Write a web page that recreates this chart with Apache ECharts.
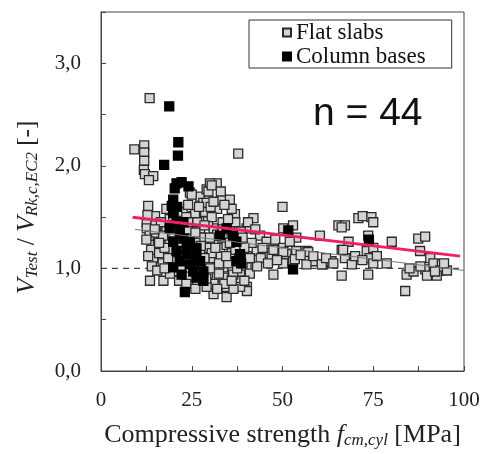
<!DOCTYPE html>
<html>
<head>
<meta charset="utf-8">
<script src="https://cdn.jsdelivr.net/npm/echarts@6/dist/echarts.min.js"></script>
<style>html,body{margin:0;padding:0;background:#fff}#c{width:484px;height:454px}</style>
</head>
<body>
<div id="c"></div>
<script>
// ---- data ----
const flatSlabs = [
[13.4,2.66],[9.2,2.16],[11.9,2.20],[11.9,2.13],[11.9,2.05],[11.8,1.96],[12.1,1.92],[14.4,1.90],[13.2,1.86],[37.8,2.12],
[13.0,1.61],[14.9,1.51],[12.6,1.45],[12.6,1.39],[13.4,1.32],[14.3,1.23],[15.7,1.28],[16.6,1.31],[14.4,1.10],[14.0,1.02],[13.5,0.88],[17.2,0.88],
[12.8,1.52],[15.2,1.35],[13.8,1.18],[16.0,1.15],[17.0,1.05],[15.5,0.98],
[25.4,0.85],[27.3,1.70],[29.1,1.77],[31.9,1.83],[30.0,1.83],[24.5,1.74],[28.2,1.64],[33.2,1.67],[35.5,1.67],[32.0,1.58],[36.9,1.53],[42.0,1.49],[40.1,1.39],[25.4,1.51],[27.3,1.39],[31.0,1.39],[35.5,1.39],[43.8,1.32],[45.6,1.26],[47.5,1.20],[45.6,1.15],[42.9,1.17],[40.2,1.12],[40.1,1.01],[38.3,0.94],[38.3,0.88],[40.2,0.82],[40.2,0.78],[38.3,0.82],[34.6,0.72],[34.6,0.82],[31.0,0.75],[31.0,0.85],[29.1,0.82],[28.2,0.91],[31.9,1.01],[33.7,1.01],[35.5,1.10],[32.8,1.20],[34.6,1.23],[36.4,1.20],[31.0,1.26],[29.1,1.20],[27.3,1.14],[31.0,1.10],[36.4,0.94],[33.7,0.91],[23.6,1.29],[21.7,1.20],[19.9,1.07],[20.8,0.97],[22.7,0.91],[18.9,1.26],[18.0,1.39],[17.1,1.32],[18.9,1.48],[18.0,1.58],[19.9,1.51],
[25.0,1.72],[29.6,1.75],[30.5,1.81],[29.1,1.64],[25.9,1.53],[28.7,1.55],[30.2,1.60],[33.5,1.45],[37.0,1.45],[38.5,1.36],[26.5,1.45],[24.0,1.38],[29.5,1.46],[32.0,1.33],[34.0,1.30],[28.0,1.30],[26.0,1.25],[30.5,1.15],[33.0,1.12],[35.0,1.05],[37.5,1.00],[39.0,1.05],[36.0,1.15],[27.0,1.00],[29.5,0.95],[32.5,0.95],[34.0,0.85],[36.5,0.80],[26.5,0.88],[24.5,0.92],[22.0,1.02],[23.0,1.10],[21.0,1.30],[19.5,1.18],[41.5,1.25],[39.5,1.20],[44.0,1.10],[47.0,1.12],[41.0,0.95],[30.5,1.50],[36.0,1.58],[34.0,1.62],[22.5,1.55],[24.0,1.62],
[15.0,1.42],[16.5,1.45],[17.5,1.20],[18.5,1.10],[19.0,0.95],[21.5,0.88],[23.5,0.85],[25.5,1.05],[26.0,1.35],[27.5,1.22],[28.5,1.42],[30.0,1.30],[31.5,1.20],[32.5,1.05],[33.5,1.38],[35.0,1.48],[36.0,1.30],[37.0,1.18],[38.0,1.10],[39.0,1.30],[40.5,1.45],[42.5,1.38],[43.0,1.02],[44.5,1.20],[46.0,1.05],[48.0,1.28],[30.0,1.00],[28.5,1.10],[25.0,1.18],[22.0,1.25],[21.5,1.40],[23.5,1.50],[27.0,1.60],[31.0,1.65],[33.0,1.75],[35.5,1.25],[34.5,1.12],[29.0,0.90],[26.0,0.80],[32.0,0.80],[36.0,0.88],[39.5,0.88],[24.0,1.45],[20.0,1.35],[17.5,1.00],[16.0,1.25],[14.8,1.38],[12.5,1.28],[13.0,1.12],[41.0,1.10],
[50.0,1.60],[50.2,1.39],[50.2,1.20],[51.1,1.14],[47.5,0.94],[52.9,1.42],[53.8,1.30],[52.0,1.26],[52.9,1.07],[53.8,1.17],[56.6,1.17],[58.4,1.07],[56.6,1.04],[60.3,1.32],[61.2,1.04],[63.5,1.07],[65.4,1.42],[67.2,1.42],[66.3,1.18],[68.2,1.26],[67.2,1.10],[66.3,0.93],[69.1,1.04],[70.9,1.49],[72.1,1.51],[74.5,1.50],[75.0,1.45],[73.6,1.32],[73.2,1.17],[75.0,1.20],[74.0,1.10],[75.0,1.05],[73.6,0.94],[78.7,1.05],[80.1,1.26],[84.2,0.94],[83.8,0.78],[86.1,0.97],[87.4,1.29],[89.3,1.31],[87.9,1.17],[89.3,0.99],[90.7,1.10],[91.6,1.05],[91.6,0.94],[93.9,1.04],[93.4,0.98],[95.3,0.98],[89.8,0.93],[92.5,0.93],
[50.2,1.16],[50.2,1.05],[53.4,1.09],[57.1,1.16],[58.5,1.12],[60.8,1.04],[47.5,1.18],[66.7,1.18],[66.3,1.40],[55.0,1.13],[48.5,1.08],[62.0,1.10],[70.0,1.12],[72.0,1.08],[76.0,1.12],[85.0,1.00],[94.5,1.05],[88.0,1.02],[92.0,0.97],[64.0,1.05]
];
const columnBases = [
[18.8,2.58],[21.3,2.23],[21.2,2.10],[17.4,2.01],[20.8,1.83],[22.2,1.84],[20.3,1.78],[24.1,1.80],[19.9,1.67],[19.5,1.61],[19.9,1.54],[20.8,1.45],[18.9,1.39],[21.7,1.36],[19.9,1.26],[22.7,1.29],[20.8,1.17],[23.6,1.14],[21.7,1.07],[24.5,1.04],[19.9,1.01],[22.2,0.94],[25.4,0.97],[23.6,1.20],[26.3,1.20],[27.3,1.07],[28.2,0.97],[28.2,0.88],[26.3,0.91],[23.1,0.77],[24.5,1.26],[34.6,1.39],[36.4,1.32],[32.8,1.32],[37.3,1.26],[38.3,1.14],[37.3,1.07],[38.6,1.05],[51.6,1.37],[52.9,0.99],[73.8,1.28],[26.3,1.10],[22.7,1.45],[21.0,1.60]
];
const pinkTrend = [[8.7,1.50],[98.9,1.12]];
const grayTrend = [[9.4,1.38],[100,0.98]];
const refLine = [[0,1.0],[100,1.0]];
const xTicks = [0,25,50,75,100];
const yTicks = [0,1,2,3];
const nLabel = 'n = 44';

const chart = echarts.init(document.getElementById('c'), null, {renderer:'canvas'});
const serif = 'Liberation Serif';
chart.setOption({
  animation:false,
  backgroundColor:'#fff',
  grid:{left:101, top:12, right:20, bottom:75, show:true, borderColor:'#444', borderWidth:1},
  legend:{
    data:['Flat slabs','Column bases'],
    orient:'vertical', left:249, top:20,
    padding:[1,26,0,33], itemGap:1, itemWidth:8, itemHeight:8,
    borderColor:'#333', borderWidth:1,
    textStyle:{fontFamily:serif, fontSize:23, lineHeight:21, color:'#111'}
  },
  xAxis:{
    type:'value', min:0, max:100, interval:12.5,
    axisLine:{lineStyle:{color:'#444'}},
    axisTick:{inside:true, length:5, lineStyle:{color:'#444'}},
    splitLine:{show:false},
    axisLabel:{margin:19, fontFamily:serif, fontSize:21, color:'#222',
      formatter:v=> xTicks.includes(v) ? String(v) : ''},
    name:'Compressive strength {i|f}{sub|cm,cyl} [MPa]',
    nameLocation:'middle', nameGap:50,
    nameTextStyle:{fontFamily:serif, fontSize:26, color:'#222',
      rich:{i:{fontFamily:serif, fontSize:26, fontStyle:'italic', color:'#222'},
            sub:{fontFamily:serif, fontSize:17, fontStyle:'italic', color:'#222', padding:[11,0,0,0]}}}
  },
  yAxis:{
    type:'value', min:0, max:3.5, interval:0.5,
    axisLine:{show:true, lineStyle:{color:'#444'}},
    axisTick:{show:true, inside:true, length:5, lineStyle:{color:'#444'}},
    splitLine:{show:false},
    axisLabel:{margin:20, fontFamily:serif, fontSize:21, color:'#222',
      formatter:v=> yTicks.includes(v) ? v.toFixed(1).replace('.',',') : ''},
    name:'{v|V}{sub|Test}{t| / }{v|V}{sub|Rk,c,EC2}{t| [-]}',
    nameLocation:'middle', nameRotate:90, nameGap:60,
    nameTextStyle:{fontFamily:serif, fontSize:25, color:'#222', padding:[0,32,0,0],
      rich:{v:{fontFamily:serif, fontSize:26, fontStyle:'italic', color:'#222'},
            t:{fontFamily:serif, fontSize:25, color:'#222'},
            sub:{fontFamily:serif, fontSize:17, fontStyle:'italic', color:'#222', padding:[11,0,0,0]}}}
  },
  graphic:[{type:'text', left:313, top:95, z:100,
    style:{text:nLabel, font:'39px "Liberation Sans"', fill:'#111'}}],
  series:[
    {type:'line', data:refLine, symbol:'none', z:1, silent:true,
     lineStyle:{color:'#444', width:1.2, type:[6,5]}},
    {name:'Flat slabs', type:'scatter', data:flatSlabs, symbol:'rect', symbolSize:9, z:2,
     itemStyle:{color:'#d4d4d4', borderColor:'#2a2a2a', borderWidth:1.3, opacity:1}},
    {name:'Column bases', type:'scatter', data:columnBases, symbol:'rect', symbolSize:9, z:3,
     itemStyle:{color:'#000', borderColor:'#000', borderWidth:1.3, opacity:1}},
    {type:'line', data:grayTrend, symbol:'none', z:4, silent:true,
     lineStyle:{color:'#777', width:1}},
    {type:'line', data:pinkTrend, symbol:'none', z:5, silent:true,
     lineStyle:{color:'#ee1f6a', width:3}}
  ]
});
</script>
</body>
</html>
